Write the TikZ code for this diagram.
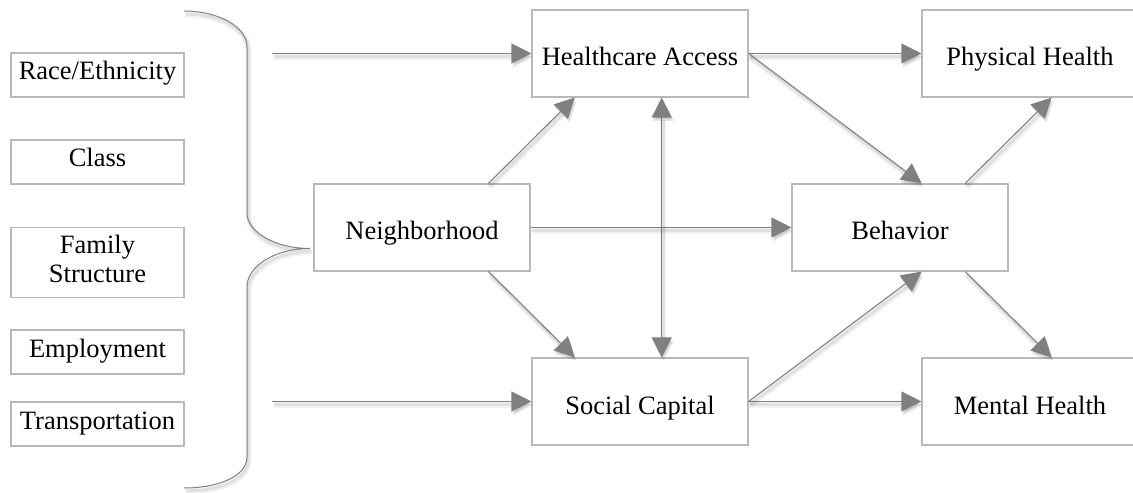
\documentclass[tikz,border=0pt]{standalone}
\usepackage{fontspec}
\setmainfont{Liberation Serif}
\usetikzlibrary{arrows.meta,calc}
\definecolor{boxline}{HTML}{B8B8B8}
\definecolor{linkgray}{HTML}{808080}
\begin{document}
\begin{tikzpicture}[x=1bp,y=-1bp,
  box/.style={draw=boxline, line width=1.1bp, fill=white, inner sep=0pt,
    minimum width=216bp, minimum height=87bp, align=center,
    text height=25bp, text depth=0bp,
    font=\fontsize{26.5bp}{29bp}\selectfont},
  factor/.style={box, minimum width=173bp, minimum height=44bp,
    text height=16bp, text depth=6bp},
  softshadow/.style={
    preaction={draw=black, draw opacity=0.05, fill opacity=0.05, line width=6bp,
      transform canvas={shift={(1.5,3.5)}}},
    preaction={draw=black, draw opacity=0.07, fill opacity=0.07, line width=3bp,
      transform canvas={shift={(1.5,3)}}}},
  link/.style={softshadow, draw=linkgray, line width=1.1bp,
    -{Triangle[length=20bp,width=20bp]}},
  twoway/.style={link, {Triangle[length=20bp,width=20bp]}-{Triangle[length=20bp,width=20bp]}},
  bracket/.style={softshadow, draw=linkgray, line width=1bp}]

\clip (0,0) rectangle (1133,493);
\fill[white] (0,0) rectangle (1133,493);

% background factors
\node[factor] (race)   at (97.5,75)  {Race/Ethnicity};
\node[factor] (class)  at (97.5,162) {Class};
\node[factor, minimum height=70bp, text height=41bp, text depth=0bp] (family)
  at (97.5,262.5) {Family\\Structure};
\node[factor] (employ) at (97.5,352) {Employment};
\node[factor] (transp) at (97.5,424) {Transportation};

% main constructs
\node[box] (hc)  at (640,53.5)   {Healthcare Access};
\node[box] (ph)  at (1030,53.5)  {Physical Health};
\node[box] (nb)  at (422,227.5)  {Neighborhood};
\node[box] (bh)  at (900,227.5)  {Behavior};
\node[box] (sc)  at (640,401.5)  {Social Capital};
\node[box] (mh)  at (1030,401.5) {Mental Health};

% brace grouping the factors
\coordinate (tip) at (310,248.5);
\draw[bracket] (184,11) .. controls (219,11) and (247,27) .. (247,47)
  -- (247,213) .. controls (247,232) and (275,248.5) .. (tip)
  .. controls (275,248.5) and (247,266) .. (247,287)
  -- (247,457) .. controls (247,476) and (219,488) .. (184,488);

% free-standing inputs from the factors
\coordinate (inTop) at (272,53.5);
\coordinate (inBot) at (272,401.5);
\draw[link] (inTop) -- (hc.west);
\draw[link] (inBot) -- (sc.west);

% paths between constructs
\draw[link] (hc.east) -- (ph.west);
\draw[link] (sc.east) -- (mh.west);
\draw[link] (nb.east) -- (bh.west);
\draw[link] ($(nb.north west)!0.806!(nb.north east)$) -- ($(hc.south west)!0.2!(hc.south east)$);
\draw[link] ($(nb.south west)!0.806!(nb.south east)$) -- ($(sc.north west)!0.2!(sc.north east)$);
\draw[twoway] ($(hc.south west)!0.6!(hc.south east)$) -- ($(sc.north west)!0.6!(sc.north east)$);
\draw[link] (hc.east) -- ($(bh.north west)!0.6!(bh.north east)$);
\draw[link] (sc.east) -- ($(bh.south west)!0.6!(bh.south east)$);
\draw[link] ($(bh.north west)!0.8!(bh.north east)$) -- ($(ph.south west)!0.6!(ph.south east)$);
\draw[link] ($(bh.south west)!0.8!(bh.south east)$) -- ($(mh.north west)!0.6!(mh.north east)$);
\end{tikzpicture}
\end{document}
